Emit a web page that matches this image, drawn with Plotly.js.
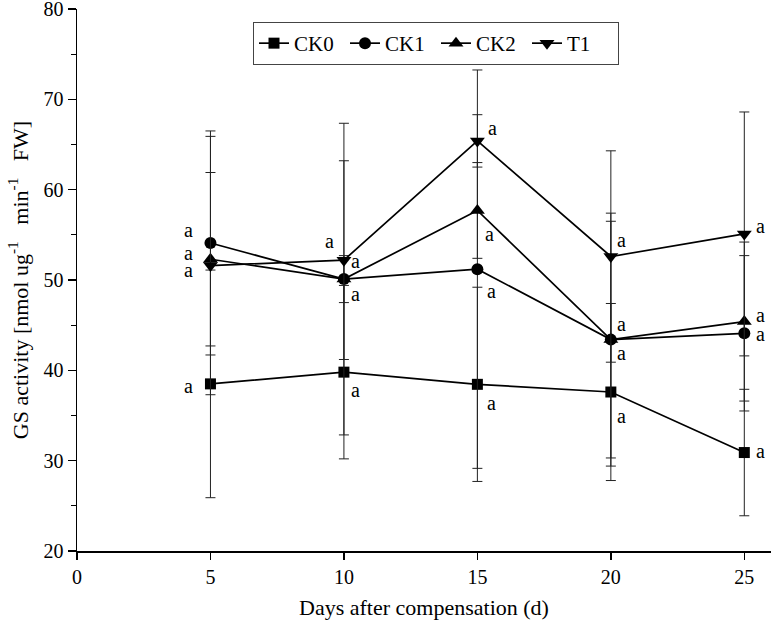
<!DOCTYPE html>
<html>
<head>
<meta charset="utf-8">
<script src="https://cdn.plot.ly/plotly-3.0.1.min.js"></script>
<style>html,body{margin:0;padding:0;background:#fff}#chart{width:771px;height:628px}</style>
</head>
<body>
<div id="chart"></div>
<script>
const days = [5, 10, 15, 20, 25];
const seriesNames = ["CK0", "CK1", "CK2", "T1"];
const ck0 = [38.5, 39.8, 38.45, 37.6, 30.9];
const ck0Err = [12.6, 9.6, 10.75, 9.8, 7.0];
const ck1 = [54.1, 50.1, 51.2, 43.4, 44.1];
const ck1Err = [12.4, 17.25, 22.05, 13.1, 8.6];
const ck2 = [52.3, 50.1, 57.7, 43.4, 45.4];
const ck2Err = [9.6, 2.6, 5.3, 14.0, 8.8];
const t1 = [51.6, 52.2, 65.4, 52.6, 55.1];
const t1Err = [14.3, 11.0, 2.9, 11.7, 13.5];
const sigLetters = {
  CK0: ["a", "a", "a", "a", "a"],
  CK1: ["a", "a", "a", "a", "a"],
  CK2: ["a", "a", "a", "a", "a"],
  T1: ["a", "a", "a", "a", "a"]
};

// label offsets in pixels (style only)
const labelShift = {
  CK0: [[-22, -2], [12, -18], [14, -19], [11, -24], [16, 2]],
  CK1: [[-22, 13], [12, 18], [14, -22], [11, -13], [16, -1]],
  CK2: [[-22, 6], [12, -15], [12, -24], [11, 16], [16, 7]],
  T1: [[-22, -4], [-14, 19], [15, 13], [11, 17], [16, 8]]
};

const values = {CK0: ck0, CK1: ck1, CK2: ck2, T1: t1};
const errs = {CK0: ck0Err, CK1: ck1Err, CK2: ck2Err, T1: t1Err};
const symbols = {CK0: "square", CK1: "circle", CK2: "triangle-up", T1: "triangle-down"};
const sizes = {CK0: 11, CK1: 12, CK2: 13, T1: 13};

const FONT = "Liberation Serif, Times New Roman, serif";

const traces = seriesNames.map(n => ({
  type: "scatter",
  mode: "lines+markers",
  name: n,
  x: days,
  y: values[n],
  line: {color: "#000", width: 1.7},
  marker: {symbol: symbols[n], size: sizes[n], color: "#000"},
  error_y: {type: "data", array: errs[n], visible: true, color: "#222", thickness: 1, width: 5}
}));

const annotations = [];
seriesNames.forEach(n => {
  days.forEach((d, i) => {
    annotations.push({
      x: d, y: values[n][i], xref: "x", yref: "y",
      text: sigLetters[n][i], showarrow: false,
      xshift: labelShift[n][i][0], yshift: labelShift[n][i][1],
      font: {family: FONT, size: 20, color: "#000"}
    });
  });
});

const layout = {
  width: 771, height: 628,
  margin: {l: 77, r: 0, t: 9, b: 77},
  paper_bgcolor: "#fff", plot_bgcolor: "#fff",
  showlegend: true,
  legend: {
    orientation: "h", x: 0.2536, y: 0.976, xanchor: "left", yanchor: "top",
    bordercolor: "#444", borderwidth: 1, bgcolor: "#fff",
    font: {family: FONT, size: 21, color: "#000"},
    entrywidth: 46, entrywidthmode: "pixels",
    itemwidth: 30, tracegroupgap: 0
  },
  xaxis: {
    range: [0, 26], tickvals: [0, 5, 10, 15, 20, 25],
    showgrid: false, zeroline: false, showline: true, linecolor: "#000", linewidth: 1.5,
    ticks: "outside", ticklen: 7, tickwidth: 1.5, tickcolor: "#000",
    tickfont: {family: FONT, size: 20, color: "#000"},
    title: {text: "Days after compensation (d)", font: {family: FONT, size: 22, color: "#000"}, standoff: 13}
  },
  yaxis: {
    range: [20, 80], tickvals: [20, 30, 40, 50, 60, 70, 80],
    showgrid: false, zeroline: false, showline: true, linecolor: "#000", linewidth: 1.5,
    ticks: "outside", ticklen: 8, tickwidth: 1.5, tickcolor: "#000",
    ticklabeloverflow: "allow",
    minor: {dtick: 5, ticks: "outside", ticklen: 5, tickwidth: 1.2, tickcolor: "#000", showgrid: false},
    tickfont: {family: FONT, size: 20, color: "#000"},
    title: {text: "GS activity [nmol ug<sup>-1</sup>   min<sup>-1</sup>   FW]", font: {family: FONT, size: 22, color: "#000"}, standoff: 9}
  },
  annotations: annotations
};

Plotly.newPlot("chart", traces, layout, {displayModeBar: false, staticPlot: true});
</script>
</body>
</html>
